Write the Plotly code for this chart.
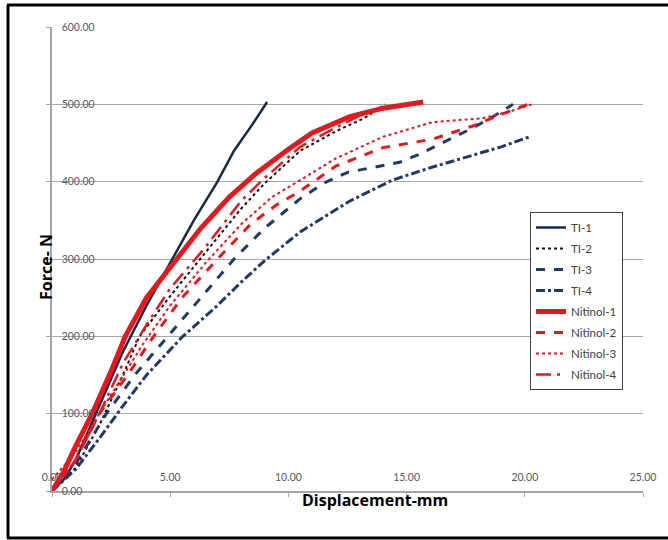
import plotly.graph_objects as go

# ---- data ----
ti1_x = [0, 0.5, 1, 2, 3, 4, 5, 6, 7, 7.7, 8.5, 9.1]
ti1_y = [0, 15, 40, 110, 180, 240, 295, 350, 400, 440, 475, 503]

ti2_x = [0, 1, 2, 3, 3.7, 5, 6.4, 8, 9, 10.5, 12, 13.2, 14.1]
ti2_y = [0, 30, 85, 150, 200, 252, 305, 365, 398, 440, 465, 482, 500]

ti3_x = [0, 1, 2.3, 3.5, 4.9, 6.3, 7.7, 9, 10.5, 11.5, 12.5, 13.5, 14.7, 15.5, 16.5, 17.7, 18.6, 19.5]
ti3_y = [0, 35, 100, 150, 200, 250, 300, 340, 378, 398, 412, 418, 425, 435, 450, 468, 483, 500]

ti4_x = [0, 1, 2, 3, 4, 5.5, 7, 8, 9, 10.5, 12.6, 14.4, 16, 17.6, 19, 20.2]
ti4_y = [0, 28, 68, 110, 150, 199, 240, 270, 298, 335, 375, 402, 418, 432, 445, 458]

nit1_x = [0, 0.5, 1, 1.7, 2.5, 3.1, 4, 5.3, 6.3, 7.5, 8.6, 10, 11, 12.6, 14, 15.7]
nit1_y = [0, 25, 58, 100, 155, 200, 250, 300, 340, 380, 410, 442, 463, 484, 495, 503]

nit2_x = [0, 1, 2, 3.2, 4.3, 5.5, 7, 8.4, 9.5, 10.5, 12, 14, 16.1, 17.8, 19, 20.3]
nit2_y = [0, 40, 100, 150, 200, 250, 300, 345, 370, 388, 420, 444, 455, 472, 487, 502]

nit3_x = [0, 1, 2, 3.85, 5, 6.5, 8, 9.3, 10.5, 12, 14, 16.1, 18.2, 19.3, 20.3]
nit3_y = [15, 50, 100, 190, 240, 295, 345, 380, 402, 430, 458, 477, 482, 490, 500]

nit4_x = [0, 1, 2, 3, 4, 5, 6.4, 8, 9, 10.5, 12, 13]
nit4_y = [0, 40, 100, 165, 215, 262, 312, 375, 405, 445, 470, 485]

x_ticks = [0, 5, 10, 15, 20, 25]
y_ticks = [0, 100, 200, 300, 400, 500, 600]

NAVY = "#1F3A66"
DARK = "#15294A"
RED = "#E3191E"

series = [
    ("TI-1", ti1_x, ti1_y, DARK, "solid", 2.5),
    ("TI-2", ti2_x, ti2_y, "#111111", "dot", 2),
    ("TI-3", ti3_x, ti3_y, NAVY, "dash", 3),
    ("TI-4", ti4_x, ti4_y, NAVY, "dashdot", 3),
    ("Nitinol-1", nit1_x, nit1_y, RED, "solid", 5),
    ("Nitinol-2", nit2_x, nit2_y, RED, "dash", 3),
    ("Nitinol-3", nit3_x, nit3_y, RED, "dot", 2),
    ("Nitinol-4", nit4_x, nit4_y, RED, "longdashdot", 2.5),
]

fig = go.Figure()
for i, (name, xs, ys, col, dash, w) in enumerate(series):
    fig.add_trace(go.Scatter(x=xs, y=ys, mode="lines", name=name,
                             legendgroup=f"g{i}",
                             line=dict(color=col, dash=dash, width=w)))

FONT = "Lato, 'Open Sans', sans-serif"
TFONT = "'Open Sans', sans-serif"
L, R, T, B = 52, 25, 27, 49
W, H = 668, 540
pw, ph = W - L - R, H - T - B

def px(x):
    return (x - L) / pw

def py(y):
    return (H - B - y) / ph

fig.update_layout(
    width=W, height=H,
    margin=dict(l=L, r=R, t=T, b=B),
    paper_bgcolor="white", plot_bgcolor="white",
    font=dict(family=FONT, size=11, color="#595959"),
    showlegend=True,
    legend=dict(x=px(530), y=py(212), xanchor="left", yanchor="top",
                bgcolor="white", bordercolor="#404040", borderwidth=1,
                font=dict(size=11.5, color="#404040"), tracegroupgap=2),
    xaxis=dict(range=[0, 25], tickvals=x_ticks,
               ticktext=[f"{v:.2f}" for v in x_ticks],
               showgrid=False, zeroline=False, showline=True,
               linecolor="#A6A6A6", linewidth=1.5,
               ticks="outside", ticklen=4, tickcolor="#A6A6A6",
               ticklabelposition="inside", ticklabeloverflow="allow",
               ticklabelstandoff=7,
               tickfont=dict(size=10.5, color="#595959")),
    yaxis=dict(range=[0, 600], tickvals=y_ticks,
               ticktext=[f"{v:.2f}" for v in y_ticks],
               showgrid=True, gridcolor="#A6A6A6", gridwidth=1.2,
               zeroline=False, showline=True,
               linecolor="#A6A6A6", linewidth=1.5,
               ticks="outside", ticklen=4, tickcolor="#A6A6A6",
               ticklabelposition="inside", ticklabeloverflow="allow",
               ticklabelstandoff=9,
               tickfont=dict(size=10.5, color="#595959")),
    annotations=[
        dict(text="<b>Displacement-mm</b>", x=px(375), y=py(513), xref="paper", yref="paper",
             showarrow=False, font=dict(size=16, color="#000000", family=TFONT)),
        dict(text="<b>Force- N</b>", x=px(33), y=py(267), xref="paper", yref="paper",
             showarrow=False, textangle=-90, font=dict(size=16, color="#000000", family=TFONT)),
    ],
    shapes=[
        dict(type="line", xref="paper", yref="paper", x0=px(8), x1=px(8), y0=py(5), y1=py(538),
             line=dict(color="black", width=3)),
        dict(type="line", xref="paper", yref="paper", x0=px(7), x1=px(668), y0=py(5), y1=py(5),
             line=dict(color="black", width=3)),
        dict(type="line", xref="paper", yref="paper", x0=px(7), x1=px(668), y0=py(538), y1=py(538),
             line=dict(color="black", width=3)),
    ],
)

fig.write_html("out.html", config={"displayModeBar": False},
               post_script="document.body.style.margin='0';document.body.style.overflow='hidden';")
